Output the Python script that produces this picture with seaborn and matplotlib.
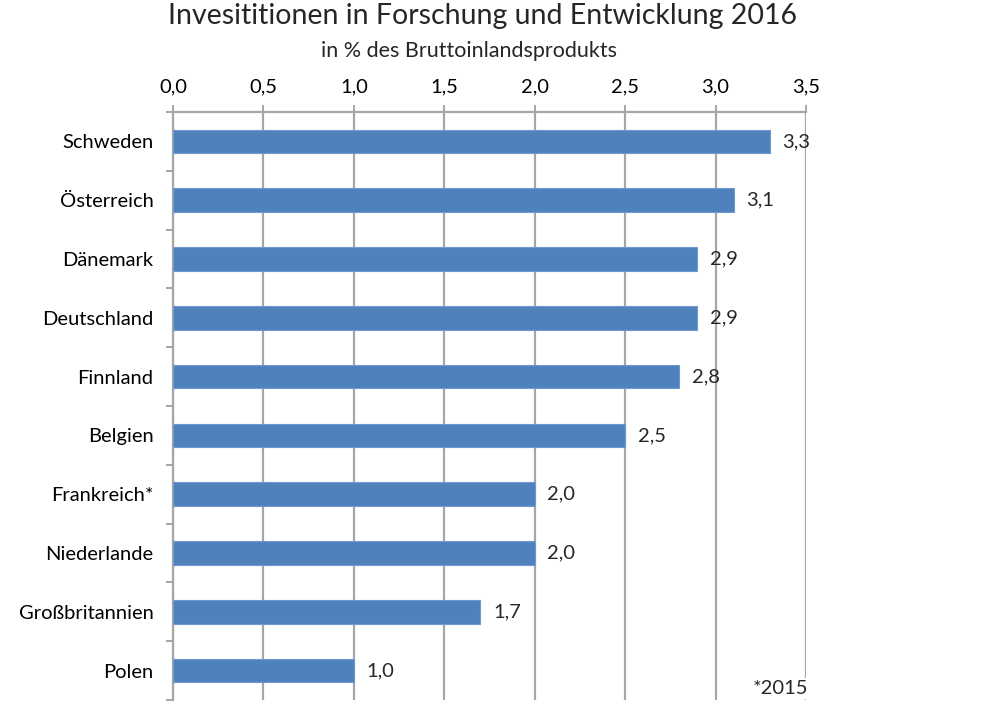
import matplotlib
matplotlib.use("Agg")
import matplotlib.pyplot as plt
import seaborn as sns
import pandas as pd
from matplotlib.ticker import FixedLocator

laender = ['Schweden', 'Österreich', 'Dänemark', 'Deutschland', 'Finnland',
           'Belgien', 'Frankreich*', 'Niederlande', 'Großbritannien', 'Polen']
werte = [3.3, 3.1, 2.9, 2.9, 2.8, 2.5, 2.0, 2.0, 1.7, 1.0]
xticks = [0.0, 0.5, 1.0, 1.5, 2.0, 2.5, 3.0, 3.5]

df = pd.DataFrame({'Land': laender, 'Wert': werte})

sns.set_theme(style='white')
plt.rcParams['font.family'] = ['Lato', 'DejaVu Sans']

fig = plt.figure(figsize=(10, 7.16), dpi=100)
ax = fig.add_axes([0.173, 0.0223, 0.633, 0.8213])

grau = '#a6a6a6'
fs = 14.5
sns.barplot(data=df, x='Wert', y='Land', orient='h', color='#4f81bd',
            saturation=1, width=0.4, edgecolor='#6f9ad0', linewidth=0.8, ax=ax, zorder=3)

ax.set_xlim(0, 3.5)
ax.set_ylim(len(laender) - 0.5, -0.5)
ax.set_xticks(xticks)
ax.set_xticklabels([f'{v:.1f}'.replace('.', ',') for v in xticks])
ax.xaxis.tick_top()
ax.grid(axis='x', color=grau, linewidth=1.6, zorder=0)
ax.set_axisbelow(True)

ax.yaxis.set_minor_locator(FixedLocator([i - 0.5 for i in range(len(laender) + 1)]))
ax.tick_params(axis='y', which='major', length=0, pad=14, labelsize=fs, colors='black')
ax.tick_params(axis='y', which='minor', left=True, length=5, width=1.4, color=grau)
ax.tick_params(axis='x', which='major', top=True, length=5, width=1.4, color=grau,
               pad=7, labelsize=fs, labelcolor='black')
ax.set_xlabel('')
ax.set_ylabel('')

for s in ['right', 'bottom']:
    ax.spines[s].set_visible(False)
for s in ['top', 'left']:
    ax.spines[s].set_color(grau)
    ax.spines[s].set_linewidth(1.6)

for i, v in enumerate(werte):
    ax.text(v + 0.07, i, f'{v:.1f}'.replace('.', ','), va='center', ha='left',
            fontsize=fs, zorder=5)

ax.text(3.51, 9.3, '*2015', ha='right', va='center', fontsize=fs, zorder=6,
        bbox=dict(facecolor='white', edgecolor='none', pad=1.5))

fig.text(0.483, 0.966, 'Invesititionen in Forschung und Entwicklung 2016',
         ha='center', va='baseline', fontsize=20.5)
fig.text(0.469, 0.921, 'in % des Bruttoinlandsprodukts', ha='center', va='baseline',
         fontsize=15.5)

fig.savefig('out.png', dpi=100)
